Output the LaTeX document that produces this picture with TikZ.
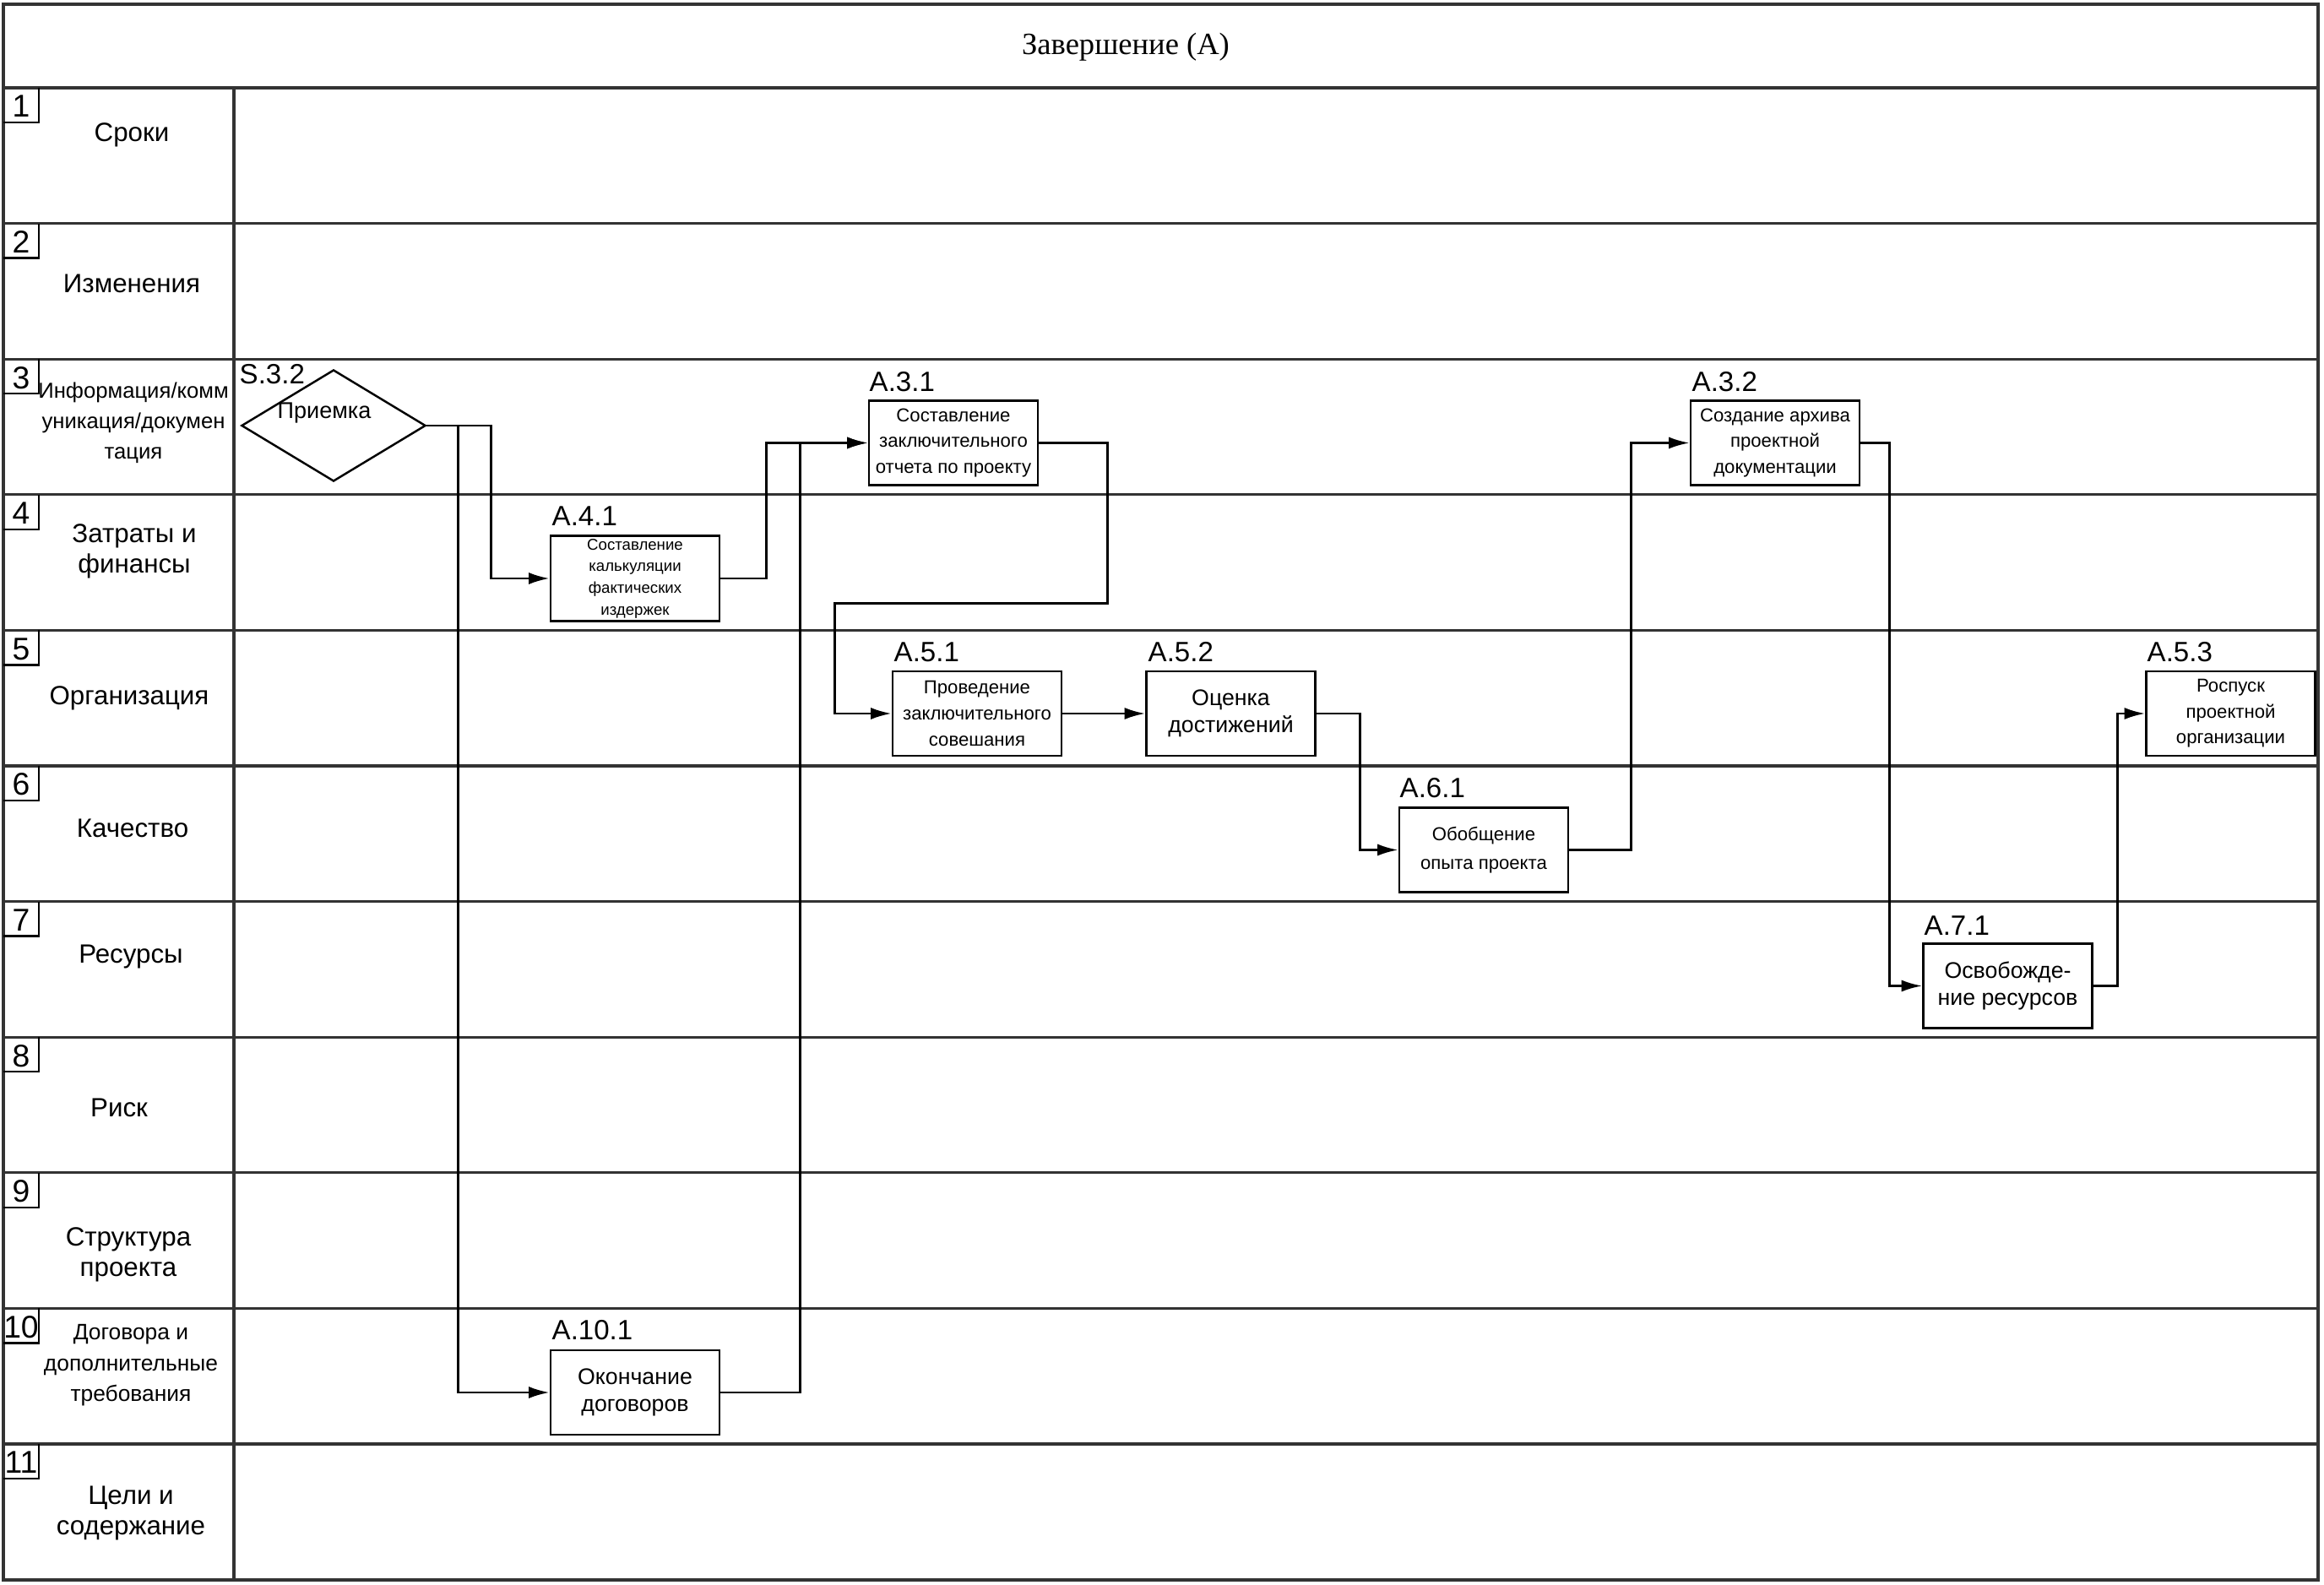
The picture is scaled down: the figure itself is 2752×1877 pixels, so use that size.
\documentclass[tikz,border=0pt]{standalone}
\usepackage{fontspec}
\setmainfont{Liberation Serif}
\setsansfont{Liberation Sans}
\usetikzlibrary{arrows.meta,shapes.geometric}
\newcommand{\fsz}[2]{\fontsize{#1}{#2}\selectfont}

\begin{document}
\begin{tikzpicture}[x=0.01cm,y=-0.01cm,
  lane/.style={line width=.9pt,black!80},
  task/.style={draw,line width=.7pt,minimum width=2cm,minimum height=1cm,inner sep=1pt,align=center,font=\sffamily\fsz{6.3}{8.7}},
  bigtask/.style={task,font=\sffamily\fsz{7.6}{9.2}},
  tag/.style={anchor=base west,inner sep=0pt,font=\sffamily\fsz{9.4}{11}},
  lanename/.style={align=center,font=\sffamily\fsz{8.9}{10.3}},
  flow/.style={line width=.8pt,-{Latex[length=7pt,width=4pt]}}]
\useasboundingbox (0,0) rectangle (2752,1877);
\draw[lane] (4,5) rectangle (2745,1871);
\draw[lane] (4,104) -- (2745,104);
\draw[lane] (277,104) -- (277,1871);
\node[font=\fsz{10.4}{12}] (title) at (1333,56) {Завершение (А)};
\foreach \i in {1,...,10}
  \draw[lane] (4,{104+160.6*\i}) -- (2745,{104+160.6*\i});
\foreach \i in {1,...,11}{
  \draw[line width=.7pt] (46,{104+160.6*(\i-1)}) |- (4,{145+160.6*(\i-1)});
  \node[font=\sffamily\fsz{10.6}{12}] (n\i) at (25,{126+160.6*(\i-1)}) {\i};
}
\node[lanename] (l1) at (156,160) {Сроки};
\node[lanename] (l2) at (156,336) {Изменения};
\node[lanename,font=\sffamily\fsz{7.3}{10.2}] (l3) at (158,501) {Информация/комм\\уникация/докумен\\тация};
\node[lanename] (l4) at (159,653) {Затраты и\\финансы};
\node[lanename] (l5) at (153,827) {Организация};
\node[lanename] (l6) at (157,981) {Качество};
\node[lanename] (l7) at (155,1133) {Ресурсы};
\node[lanename] (l8) at (141,1312) {Риск};
\node[lanename] (l9) at (152,1486) {Структура\\проекта};
\node[lanename,font=\sffamily\fsz{7.5}{10.4}] (l10) at (155,1617) {Договора и\\дополнительные\\требования};
\node[lanename] (l11) at (155,1792) {Цели и\\содержание};

\node[diamond,draw,line width=.7pt,minimum width=2.18cm,minimum height=1.32cm,inner sep=0pt] (s32) at (395,504) {};
\node[font=\sffamily\fsz{7.7}{9}] (s32t) at (384,489) {Приемка};
\node[tag] (ts32) at (283,455) {S.3.2};

\node[task] (a31) at (1129,524.5) {Составление\\заключительного\\отчета по проекту};
\node[tag] (t31) at (1029,464) {A.3.1};
\node[task,font=\sffamily\fsz{5.3}{7.3}] (a41) at (752,685) {Составление\\калькуляции\\фактических\\издержек};
\node[tag] (t41) at (653,623) {A.4.1};
\node[bigtask] (a101) at (752,1649) {Окончание\\договоров};
\node[tag] (t101) at (653,1586) {A.10.1};
\node[task] (a51) at (1157,845) {Проведение\\заключительного\\совешания};
\node[tag] (t51) at (1058,784) {A.5.1};
\node[bigtask] (a52) at (1457.5,845) {Оценка\\достижений};
\node[tag] (t52) at (1359,784) {A.5.2};
\node[task,font=\sffamily\fsz{6.3}{9.6}] (a61) at (1757,1006.5) {Обобщение\\опыта проекта};
\node[tag] (t61) at (1657,945) {A.6.1};
\node[task] (a32) at (2102,524.5) {Создание архива\\проектной\\документации};
\node[tag] (t32) at (2003,464) {A.3.2};
\node[bigtask] (a71) at (2377.5,1167.5) {Освобожде-\\ние ресурсов};
\node[tag] (t71) at (2278,1107) {A.7.1};
\node[task] (a53) at (2641.5,845) {Роспуск\\проектной\\организации};
\node[tag] (t53) at (2542,784) {A.5.3};

\draw[flow] (s32.east) -- ++(76,0) |- (a41.west);
\draw[flow] (s32.east) -- ++(37,0) |- (a101.west);
\draw[flow] (a41.east) -- ++(54,0) |- (a31.west);
\draw[flow] (a101.east) -- ++(94,0) |- (a31.west);
\draw[flow] (a31.east) -- ++(81,0) -- ++(0,190) -- ++(-323,0) |- (a51.west);
\draw[flow] (a51.east) -- (a52.west);
\draw[flow] (a52.east) -- ++(52,0) |- (a61.west);
\draw[flow] (a61.east) -- ++(73,0) |- (a32.west);
\draw[flow] (a32.east) -- ++(34,0) |- (a71.west);
\draw[flow] (a71.east) -- ++(29,0) |- (a53.west);
\end{tikzpicture}
\end{document}
